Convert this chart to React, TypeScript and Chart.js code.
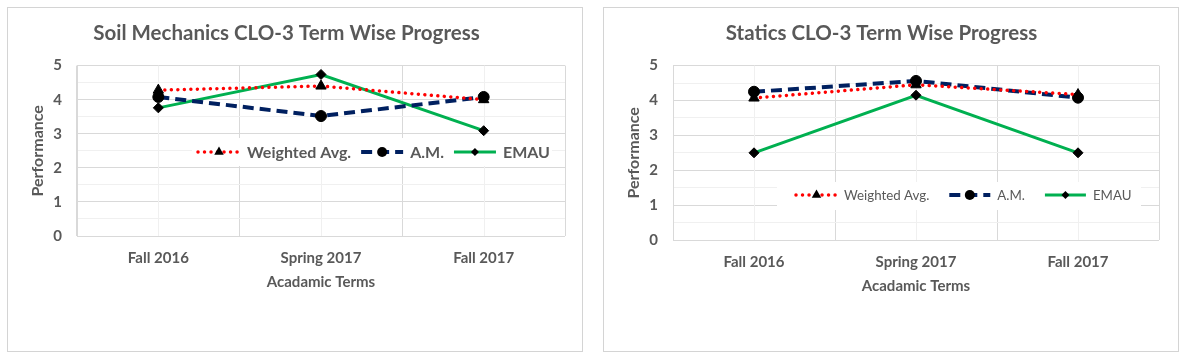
import React, { useEffect, useRef } from "react";
import { Chart, registerables } from "chart.js";

Chart.register(...registerables);

// ---------- data ----------
const terms = ["Fall 2016", "Spring 2017", "Fall 2017"];
const seriesNames = ["Weighted Avg.", "A.M.", "EMAU"];
const yTickLabels = ["0", "1", "2", "3", "4", "5"];

const soilWeighted = [4.28, 4.4, 4.0];
const soilAM = [4.08, 3.52, 4.08];
const soilEMAU = [3.76, 4.74, 3.09];

const staticsWeighted = [4.07, 4.45, 4.17];
const staticsAM = [4.25, 4.56, 4.08];
const staticsEMAU = [2.5, 4.15, 2.5];

// ---------- styles ----------
const TEXT = "#595959";
const FONT = "Lato, 'Open Sans', 'DejaVu Sans', sans-serif";
const GRID_MAJOR = "#D9D9D9";
const GRID_MINOR = "#F0F0F0";

type PanelCfg = {
  title: string;
  weighted: number[];
  am: number[];
  emau: number[];
  left: number;
  yWidth: number;
  padRight: number;
  xHeight: number;
  xTickPad: number;
  xTitlePad: number;
  legend: {
    box: [number, number, number, number];
    startX: number;
    rowY: number;
    sample: number;
    textGap: number;
    itemGap: number;
    weight: string;
    size: number;
  };
};

function drawMarker(ctx: CanvasRenderingContext2D, style: string, x: number, y: number, r: number) {
  ctx.beginPath();
  if (style === "triangle") {
    let rad = 0;
    ctx.moveTo(x + Math.sin(rad) * r, y - Math.cos(rad) * r);
    rad += (2 * Math.PI) / 3;
    ctx.lineTo(x + Math.sin(rad) * r, y - Math.cos(rad) * r);
    rad += (2 * Math.PI) / 3;
    ctx.lineTo(x + Math.sin(rad) * r, y - Math.cos(rad) * r);
    ctx.closePath();
  } else if (style === "circle") {
    ctx.arc(x, y, r, 0, Math.PI * 2);
  } else {
    ctx.moveTo(x, y - r);
    ctx.lineTo(x + r, y);
    ctx.lineTo(x, y + r);
    ctx.lineTo(x - r, y);
    ctx.closePath();
  }
  ctx.fillStyle = "#000";
  ctx.fill();
}

const extrasPlugin = {
  id: "extras",
  beforeDatasetsDraw(chart: any) {
    const { ctx, chartArea } = chart;
    const xs = chart.scales.x;
    ctx.save();
    ctx.strokeStyle = GRID_MINOR;
    ctx.lineWidth = 1;
    for (let i = 0; i < xs.ticks.length; i++) {
      const px = Math.round(xs.getPixelForTick(i)) + 0.5;
      ctx.beginPath();
      ctx.moveTo(px, chartArea.top);
      ctx.lineTo(px, chartArea.bottom);
      ctx.stroke();
    }
    ctx.restore();
  },
  afterDatasetsDraw(chart: any, _args: any, opts: any) {
    const lg = opts && opts.legend;
    if (!lg) return;
    const { ctx } = chart;
    ctx.save();
    ctx.fillStyle = "#FFFFFF";
    ctx.fillRect(lg.box[0], lg.box[1], lg.box[2], lg.box[3]);
    ctx.font = `${lg.weight} ${lg.size}px ${FONT}`;
    ctx.textBaseline = "middle";
    ctx.textAlign = "left";
    let x = lg.startX;
    const y = lg.rowY;
    chart.data.datasets.forEach((ds: any, i: number) => {
      ctx.save();
      ctx.strokeStyle = ds.borderColor;
      ctx.lineWidth = ds.borderWidth;
      ctx.lineCap = ds.borderCapStyle || "butt";
      ctx.setLineDash(ds.borderDash || []);
      ctx.beginPath();
      ctx.moveTo(x, y);
      ctx.lineTo(x + lg.sample, y);
      ctx.stroke();
      ctx.restore();
      drawMarker(ctx, ds.pointStyle, x + lg.sample / 2, y, lg.markerSizes[i]);
      x += lg.sample + lg.textGap;
      ctx.fillStyle = TEXT;
      const label = seriesNames[i];
      ctx.fillText(label, x, y + 1);
      x += ctx.measureText(label).width + lg.itemGap;
    });
    ctx.restore();
  },
};

function ChartPanel({ cfg }: { cfg: PanelCfg }) {
  const ref = useRef<HTMLCanvasElement | null>(null);
  useEffect(() => {
    if (!ref.current) return;
    const tickFont = { family: FONT, size: 15, weight: "bold" as const };
    const chart = new Chart(ref.current, {
      type: "line",
      data: {
        labels: terms,
        datasets: [
          {
            label: seriesNames[0],
            data: cfg.weighted,
            borderColor: "#FF0000",
            borderWidth: 3.5,
            borderDash: [0.01, 6.5],
            borderCapStyle: "round",
            pointStyle: "triangle",
            pointRadius: 6,
            pointBackgroundColor: "#000",
            pointBorderColor: "#000",
            pointBorderWidth: 1,
            tension: 0,
            fill: false,
          },
          {
            label: seriesNames[1],
            data: cfg.am,
            borderColor: "#002060",
            borderWidth: 4,
            borderDash: [11, 6],
            borderCapStyle: "butt",
            pointStyle: "circle",
            pointRadius: 5.5,
            pointBackgroundColor: "#000",
            pointBorderColor: "#000",
            pointBorderWidth: 1,
            tension: 0,
            fill: false,
          },
          {
            label: seriesNames[2],
            data: cfg.emau,
            borderColor: "#00B050",
            borderWidth: 3,
            borderDash: [],
            borderCapStyle: "butt",
            pointStyle: "rectRot",
            pointRadius: 5,
            pointBackgroundColor: "#000",
            pointBorderColor: "#000",
            pointBorderWidth: 1,
            tension: 0,
            fill: false,
          },
        ] as any,
      },
      options: {
        animation: false,
        responsive: false,
        maintainAspectRatio: false,
        events: [],
        layout: { padding: { left: 0, right: cfg.padRight, top: 0, bottom: 0 } },
        plugins: {
          legend: { display: false },
          tooltip: { enabled: false },
          title: {
            display: true,
            text: cfg.title,
            color: TEXT,
            font: { family: FONT, size: 20.5, weight: "bold" },
            padding: { top: 13, bottom: 20 },
          },
          extras: { legend: { ...cfg.legend, markerSizes: [5.5, 5, 4] } },
        } as any,
        scales: {
          x: {
            type: "category",
            offset: true,
            grid: { offset: true, color: GRID_MAJOR, drawTicks: false },
            border: { display: false },
            ticks: { color: TEXT, font: tickFont, padding: cfg.xTickPad, maxRotation: 0 },
            title: {
              display: true,
              text: "Acadamic Terms",
              color: TEXT,
              font: tickFont,
              padding: { top: 0, bottom: cfg.xTitlePad },
            },
            afterFit: (s: any) => {
              s.height = cfg.xHeight;
            },
          },
          y: {
            min: 0,
            max: 5,
            ticks: {
              stepSize: 0.5,
              autoSkip: false,
              color: TEXT,
              font: tickFont,
              padding: 15,
              callback: (v: any) => {
                const n = Number(v);
                return Number.isInteger(n) ? yTickLabels[n] : "";
              },
            },
            grid: {
              drawTicks: false,
              color: (c: any) => (Number.isInteger(c.tick && c.tick.value) ? GRID_MAJOR : GRID_MINOR),
            },
            border: { display: true, color: GRID_MAJOR },
            title: {
              display: true,
              text: "Performance",
              color: TEXT,
              font: { family: FONT, size: 16, weight: "bold" },
              padding: { top: 20.4, bottom: 0 },
            },
            afterFit: (s: any) => {
              s.width = cfg.yWidth;
            },
          },
        },
      } as any,
      plugins: [extrasPlugin],
    });
    return () => chart.destroy();
  }, [cfg]);

  return (
    <div
      style={{
        position: "fixed",
        left: cfg.left,
        top: 7,
        width: 574,
        height: 343,
        border: "1px solid #D4D4D4",
        background: "#FFFFFF",
        boxSizing: "content-box",
      }}
    >
      <canvas ref={ref} width={574} height={343} style={{ display: "block", width: 574, height: 343 }} />
    </div>
  );
}

const soilCfg: PanelCfg = {
  title: "Soil Mechanics CLO-3 Term Wise Progress",
  weighted: soilWeighted,
  am: soilAM,
  emau: soilEMAU,
  left: 7,
  yWidth: 69,
  padRight: 17,
  xHeight: 115,
  xTickPad: 13,
  xTitlePad: 60,
  legend: {
    box: [184, 130, 360, 28],
    startX: 190,
    rowY: 144,
    sample: 42,
    textGap: 7,
    itemGap: 10,
    weight: "bold",
    size: 16,
  },
};

const staticsCfg: PanelCfg = {
  title: "Statics CLO-3 Term Wise Progress",
  weighted: staticsWeighted,
  am: staticsAM,
  emau: staticsEMAU,
  left: 603,
  yWidth: 69,
  padRight: 19,
  xHeight: 111,
  xTickPad: 13,
  xTitlePad: 56,
  legend: {
    box: [173, 174, 364, 28],
    startX: 192,
    rowY: 187,
    sample: 41,
    textGap: 7,
    itemGap: 20,
    weight: "normal",
    size: 13.3,
  },
};

export default function App() {
  return (
    <div style={{ width: 1170, height: 345 }}>
      <ChartPanel cfg={soilCfg} />
      <ChartPanel cfg={staticsCfg} />
    </div>
  );
}
